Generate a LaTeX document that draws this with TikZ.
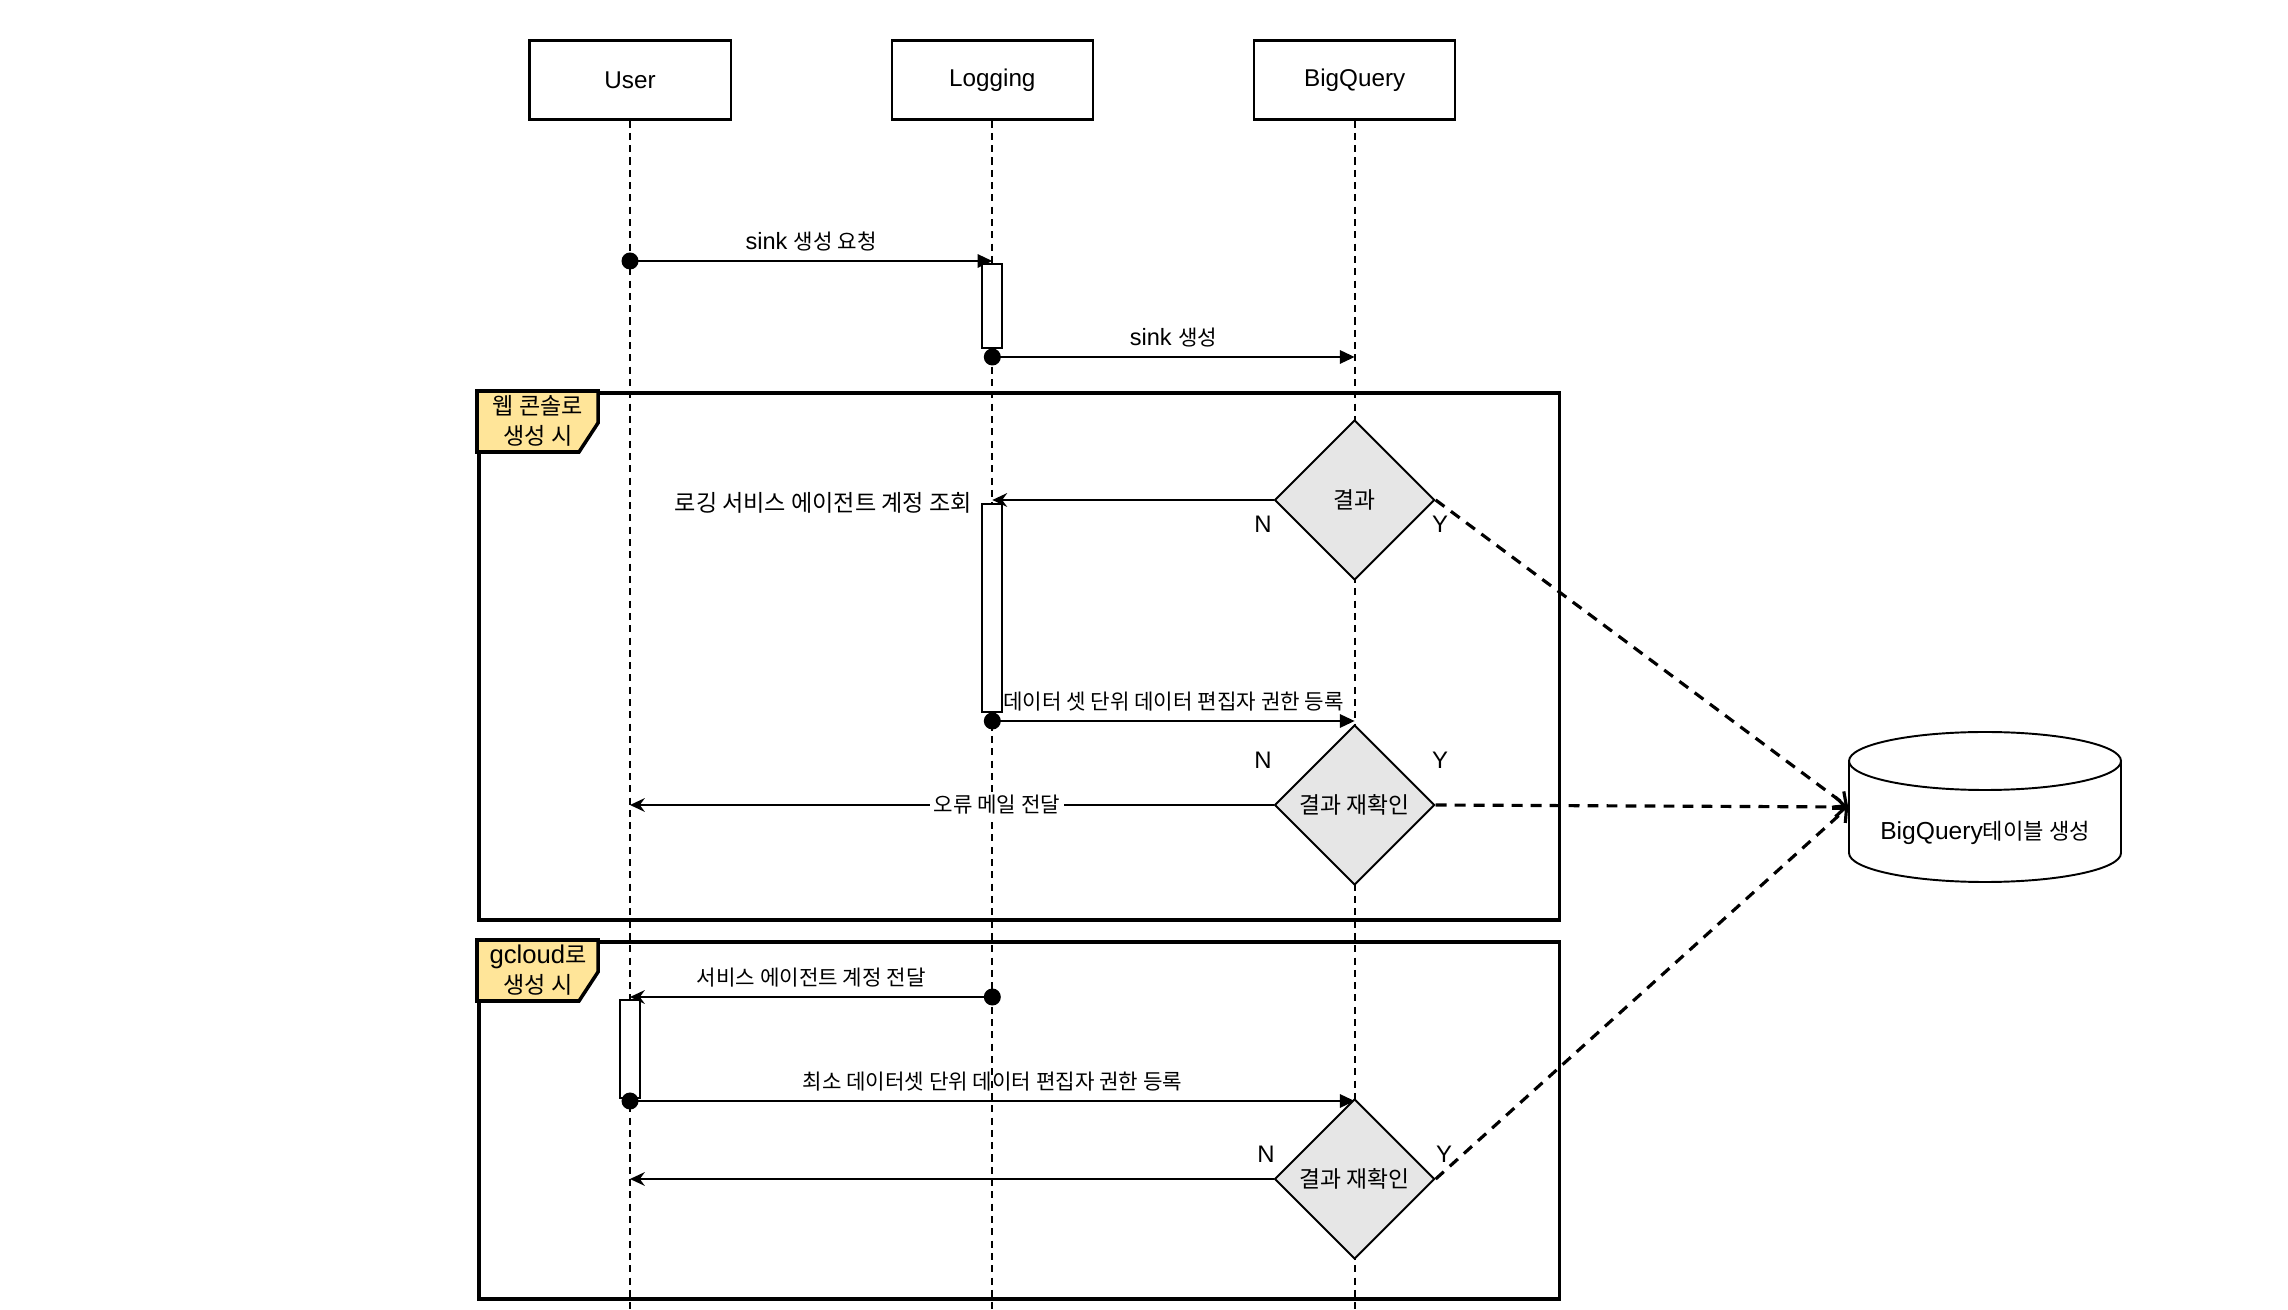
\documentclass[tikz,border=0pt]{standalone}
\usepackage{fontspec}
\setmainfont{Liberation Sans}
\newfontfamily\krfont[Scale=0.9]{Noto Sans CJK KR}
\newcommand{\kr}[1]{{\krfont #1}}
\usetikzlibrary{arrows.meta,positioning,shapes.geometric}
\definecolor{tabyellow}{RGB}{255,229,153}
\definecolor{decisionfill}{RGB}{230,230,230}
\tikzset{
  participant/.style={rectangle, draw, line width=0.6pt, minimum width=2.01cm,
    minimum height=0.79cm, font=\fontsize{6.9}{8}\selectfont},
  lifeline/.style={line width=0.55pt, dash pattern=on 2pt off 1.5pt},
  actbar/.style={rectangle, draw, fill=white, line width=0.6pt,
    minimum width=0.2cm, inner sep=0pt},
  msgdot/.style={circle, fill=black, inner sep=0pt, minimum size=0.17cm},
  msg/.style={-{Triangle[length=4.2pt,width=3.8pt]}, line width=0.6pt},
  reply/.style={-{Stealth[length=4.2pt,width=3.9pt,inset=1.4pt]}, line width=0.6pt},
  msglabel/.style={font=\fontsize{6.7}{8}\selectfont, inner sep=1pt},
  decision/.style={diamond, draw, fill=decisionfill, line width=0.55pt, aspect=1,
    minimum width=1.6cm, minimum height=1.6cm, inner sep=0pt, align=center,
    font=\fontsize{7.2}{8.5}\selectfont\krfont},
  yn/.style={font=\fontsize{6.8}{8}\selectfont, inner sep=0pt},
  framebox/.style={rectangle, draw, line width=1pt, anchor=north west, inner sep=0pt},
  frametab/.style={draw, fill=tabyellow, line width=1pt, line join=miter},
  tablabel/.style={align=center, font=\fontsize{7.3}{8.6}\selectfont},
  tablebox/.style={rectangle, draw=none, minimum width=2.72cm, minimum height=1.5cm,
    inner sep=0pt},
  dbflow/.style={-{Straight Barb[length=3pt,width=5.6pt]}, line width=0.9pt,
    dash pattern=on 3.1pt off 2.3pt}
}

\begin{document}
\begin{tikzpicture}[x=0.01cm, y=-0.01cm]
  \useasboundingbox (0,0) rectangle (2288,1310);

  % --- participants ---
  \node[participant] (user) at (630,80) {User};
  \node[participant, right=1.59cm of user] (logging) {Logging};
  \node[participant, right=1.59cm of logging] (bigquery) {BigQuery};

  \foreach \p in {user,logging,bigquery}
    \draw[lifeline] (\p.south) -- (\p |- 0,1310);

  % --- frames ---
  \node[framebox, minimum width=10.8cm, minimum height=5.27cm] (webframe) at (477,391) {};
  \draw[frametab] (webframe.north west) -- ++(121,0) -- ++(0,32) -- ++(-19,29) -- ++(-102,0) -- cycle;
  \node[tablabel] (webtab) at (538,421) {\kr{웹 콘솔로}\\\kr{생성 시}};

  \node[framebox, minimum width=10.8cm, minimum height=3.57cm] (gcframe) at (477,940) {};
  \draw[frametab] (gcframe.north west) -- ++(121,0) -- ++(0,32) -- ++(-19,29) -- ++(-102,0) -- cycle;
  \node[tablabel] (gctab) at (538,970) {gcloud\kr{로}\\\kr{생성 시}};

  % --- sink creation ---
  \node[msgdot] (s1) at (user |- 0,261) {};
  \draw[msg] (s1.center) -- (logging |- s1)
        node[midway, above=1.5pt, msglabel] {sink \kr{생성 요청}};
  \node[actbar, minimum height=0.84cm, anchor=north] (act1) at (logging |- 0,263) {};

  \node[msgdot] (s2) at (logging |- 0,357) {};
  \draw[msg] (s2.center) -- (bigquery |- s2)
        node[midway, above=1.5pt, msglabel] {sink \kr{생성}};

  % --- web console ---
  \node[decision] (res1) at (bigquery |- 0,500) {결과};
  \node[actbar, minimum height=2.08cm, anchor=north] (act2) at (logging |- 0,503) {};
  \draw[reply] (res1.west) -- (logging |- res1);
  \node[msglabel, anchor=east, font=\fontsize{7.3}{8.5}\selectfont] (lookup) at (976,503)
       {\kr{로깅 서비스 에이전트 계정 조회}};

  \node[msgdot] (s3) at (logging |- 0,721) {};
  \draw[msg] (s3.center) -- (bigquery |- s3)
        node[midway, above=1.5pt, msglabel] {\kr{데이터 셋 단위 데이터 편집자 권한 등록}};

  \node[decision] (res2) at (bigquery |- 0,805) {결과 재확인};
  \draw[reply] (res2.west) -- (user |- res2)
        node[pos=0.43, fill=white, msglabel] {\kr{오류 메일 전달}};

  \node[yn] at (1263,524) {N};
  \node[yn] at (1440,524) {Y};
  \node[yn] at (1263,760) {N};
  \node[yn] at (1440,760) {Y};

  % --- gcloud ---
  \node[actbar, minimum height=0.98cm, anchor=north] (act3) at (user |- 0,999) {};
  \node[msgdot] (s4) at (logging |- 0,997) {};
  \draw[reply] (s4.center) -- (user |- s4)
        node[midway, above=1.5pt, msglabel] {\kr{서비스 에이전트 계정 전달}};

  \node[msgdot] (s5) at (user |- 0,1101) {};
  \draw[msg] (s5.center) -- (bigquery |- s5)
        node[midway, above=1.5pt, msglabel] {\kr{최소 데이터셋 단위 데이터 편집자 권한 등록}};

  \node[decision] (res3) at (bigquery |- 0,1179) {결과 재확인};
  \draw[reply] (res3.west) -- (user |- res3);

  \node[yn] at (1266,1154) {N};
  \node[yn] at (1444,1154) {Y};

  % --- BigQuery table ---
  \node[tablebox] (bqtable) at (1985,807) {};
  \draw[line width=0.55pt, fill=white] (1849,761) -- (1849,853)
        arc[start angle=180, end angle=0, x radius=136, y radius=29] -- (2121,761);
  \draw[line width=0.55pt] (1985,761) ellipse[x radius=136, y radius=29];
  \node[msglabel, font=\fontsize{7}{8}\selectfont] (bqlabel) at (1985,833) {BigQuery\kr{테이블 생성}};

  % results to table
  \draw[dbflow] (res1.east) -- (bqtable.west);
  \draw[dbflow] (res2.east) -- (bqtable.west);
  \draw[dbflow] (res3.east) -- (bqtable.west);

\end{tikzpicture}
\end{document}
